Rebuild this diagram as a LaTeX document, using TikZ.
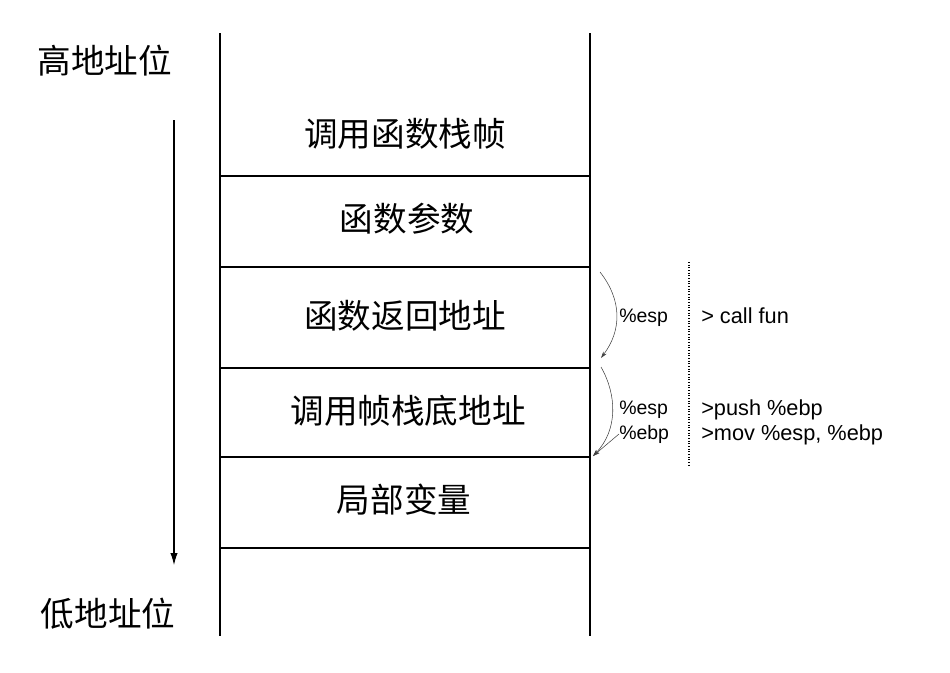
\documentclass[tikz,border=0pt]{standalone}
\usepackage{fontspec}
\setmainfont{Liberation Sans}
\newfontfamily\cjk{Noto Sans CJK SC}
\usetikzlibrary{arrows.meta}
\begin{document}
\begin{tikzpicture}[x=0.75pt,y=-0.75pt,
  frame/.style={line width=0.8pt,black},
  cell/.style={font=\cjk\fontsize{25.2pt}{30pt}\selectfont,inner sep=0pt},
  side/.style={font=\cjk\fontsize{25.2pt}{30pt}\selectfont,inner sep=0pt},
  lbl/.style={font=\fontsize{14.6pt}{17pt}\selectfont,inner sep=0pt,anchor=west},
  ins/.style={font=\fontsize{16.3pt}{19pt}\selectfont,inner sep=0pt,anchor=west},
  curv/.style={line width=0.4pt,black!75,-{Stealth[length=5pt,width=3pt]}}]
\useasboundingbox (0,0) rectangle (950,672);
% frame
\coordinate (lt) at (220,33); \coordinate (lb) at (220,636);
\coordinate (rt) at (590,33); \coordinate (rb) at (590,636);
\draw[frame] (lt) -- (lb);
\draw[frame] (rt) -- (rb);
\foreach \y/\n in {176/a,267/b,368/c,457/d,548/e}{
  \coordinate (\n L) at (220,\y); \coordinate (\n R) at (590,\y);
  \draw[frame] (\n L) -- (\n R);
}
% cell texts
\node[cell] (t1) at (405,134) {调用函数栈帧};
\node[cell] (t2) at (407,219) {函数参数};
\node[cell] (t3) at (405,316) {函数返回地址};
\node[cell] (t4) at (408,411) {调用帧栈底地址};
\node[cell] (t5) at (404,500) {局部变量};
% side labels
\node[side] (hi) at (105,61) {高地址位};
\node[side] (lo) at (108,614) {低地址位};
% direction arrow
\coordinate (as) at (174,120); \coordinate (ae) at (174,565);
\draw[line width=0.8pt,-{Latex[length=9pt,width=5.5pt]}] (as) -- (ae);
% dotted separator
\coordinate (ds) at (689,262); \coordinate (de) at (689,466);
\draw[line width=0.8pt,dash pattern=on 0.8pt off 1.2pt] (ds) -- (de);
% register labels
\node[lbl] (esp1) at (619,318) {\%esp};
\node[lbl] (esp2) at (619,410) {\%esp};
\node[lbl] (ebp) at (619,434) {\%ebp};
\node[ins] (i1) at (701,316) {> call fun};
\node[ins] (i2) at (701,410) {>push \%ebp};
\node[ins] (i3) at (701,435) {>mov \%esp, \%ebp};
% curved arrows
\coordinate (c1s) at (600,272); \coordinate (c1e) at (601,358);
\draw[curv] (c1s) .. controls (622,300) and (622,330) .. (c1e);
\coordinate (c2s) at (601,367); \coordinate (c2e) at (593,456);
\draw[curv] (c2s) .. controls (617,395) and (618,430) .. (c2e);
\draw[curv] (ebp.west) -- (c2e);
\end{tikzpicture}
\end{document}
